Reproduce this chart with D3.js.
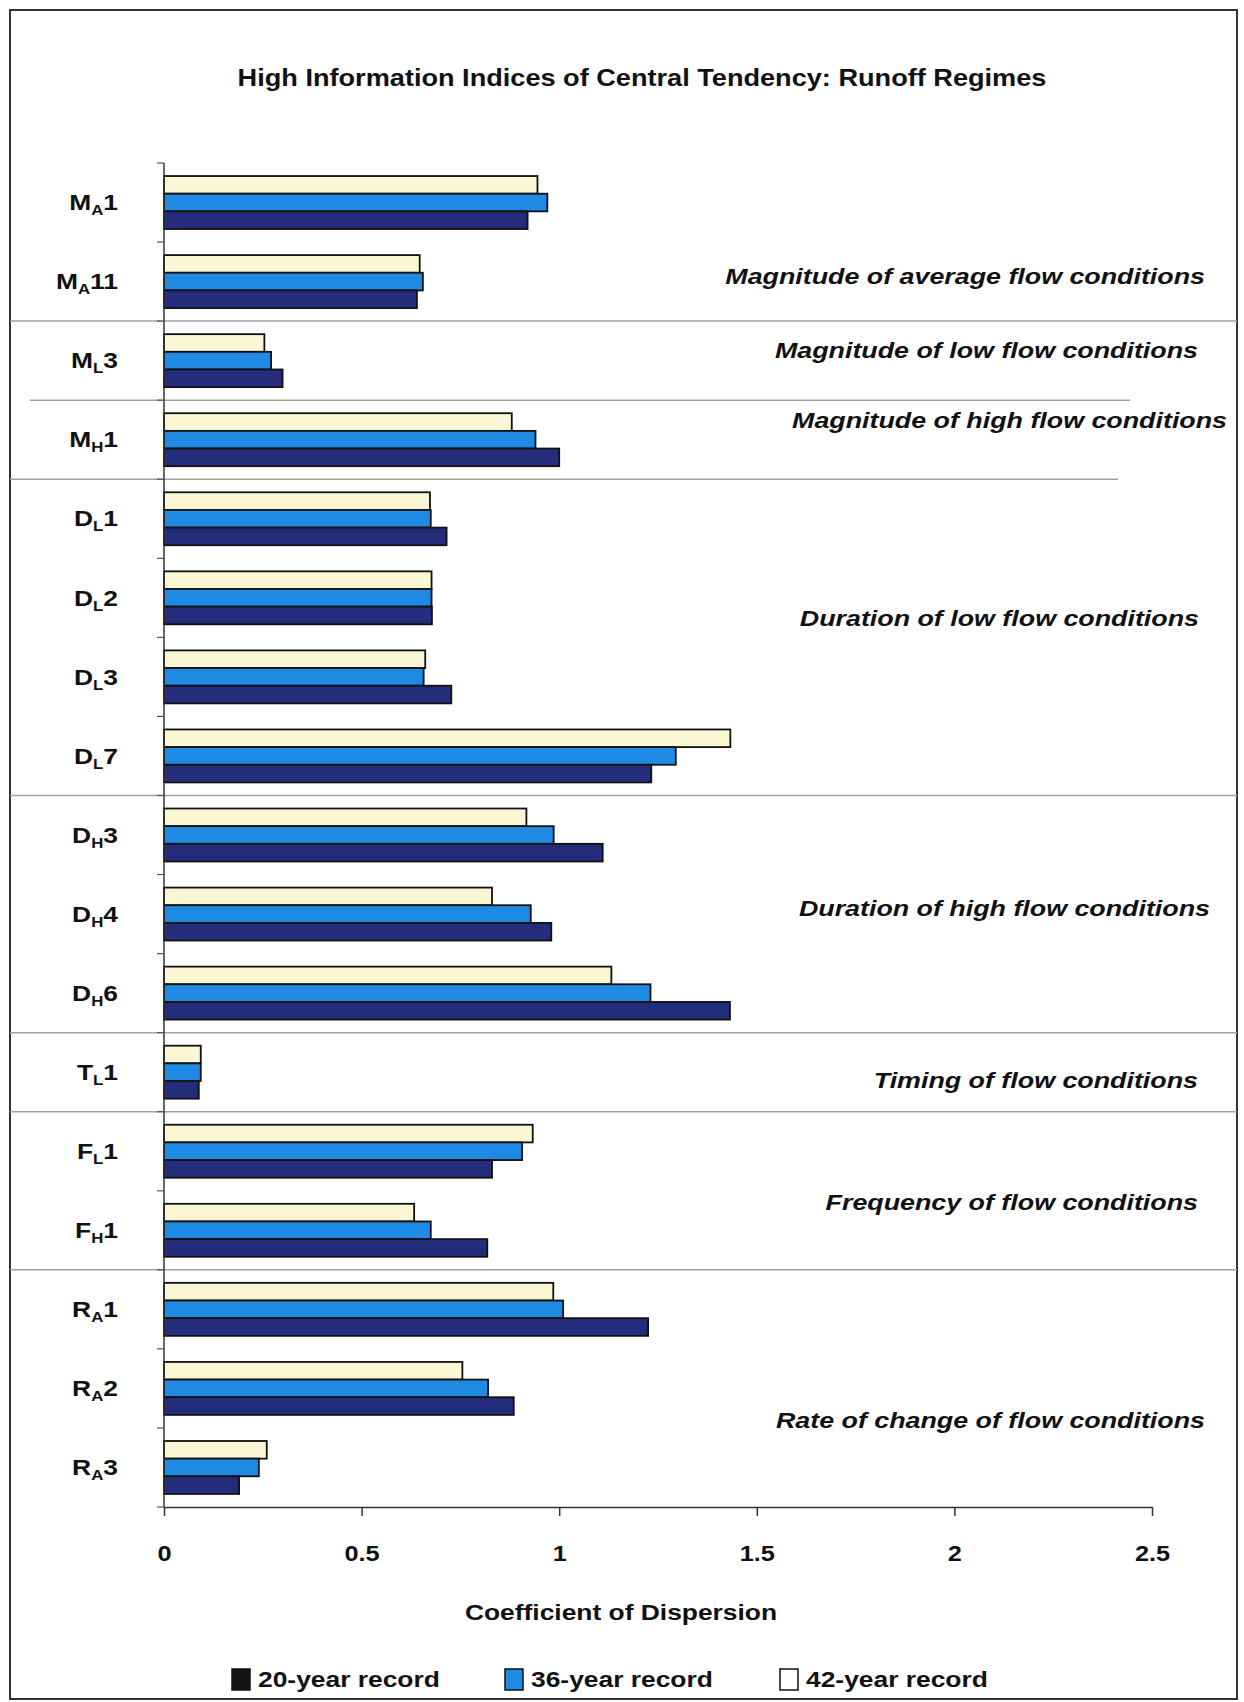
<!DOCTYPE html>
<html>
<head>
<meta charset="utf-8">
<script src="https://cdn.jsdelivr.net/npm/d3@7"></script>
<style>
  html, body { margin: 0; padding: 0; background: #fff; }
  svg { display: block; font-family: "Liberation Sans", Arial, sans-serif; }
</style>
</head>
<body>
<svg id="chart" width="1244" height="1702"></svg>
<script>
// ---------------- data ----------------
const catMain = ["M","M","M","M","D","D","D","D","D","D","D","T","F","F","R","R","R"];
const catSub  = ["A","A","L","H","L","L","L","L","H","H","H","L","L","H","A","A","A"];
const catNum  = ["1","11","3","1","1","2","3","7","3","4","6","1","1","1","1","2","3"];

const rec20 = [0.92, 0.64, 0.30, 1.00, 0.715, 0.678, 0.727, 1.233, 1.11, 0.98, 1.432, 0.088, 0.83, 0.818, 1.225, 0.885, 0.19];
const rec36 = [0.97, 0.655, 0.271, 0.94, 0.675, 0.677, 0.657, 1.295, 0.986, 0.928, 1.231, 0.093, 0.906, 0.675, 1.01, 0.82, 0.24];
const rec42 = [0.945, 0.647, 0.254, 0.88, 0.673, 0.677, 0.661, 1.433, 0.917, 0.83, 1.132, 0.093, 0.933, 0.633, 0.985, 0.755, 0.26];

const seriesNames = ["20-year record", "36-year record", "42-year record"];
const xTicks = [0, 0.5, 1, 1.5, 2, 2.5];

const groupLabels = ["Magnitude of average flow conditions", "Magnitude of low flow conditions",
  "Magnitude of high flow conditions", "Duration of low flow conditions",
  "Duration of high flow conditions", "Timing of flow conditions",
  "Frequency of flow conditions", "Rate of change of flow conditions"];
const groupBreaks = [2, 3, 4, 8, 11, 12, 14];   // category index after which a group ends

const titleText = "High Information Indices of Central Tendency:  Runoff Regimes";
const xTitle = "Coefficient of Dispersion";

// ---------------- layout (not data) ----------------
const colors = { "20": "#232d7c", "36": "#1f8ae3", "42": "#fbf7d5" };
const labelPos = [1.43, 2.37, 3.25, 5.76, 9.43, 11.6, 13.14, 15.9];        // in category units
const labelRight = [1205, 1198, 1227, 1199, 1210, 1198, 1198, 1205];
const breakExtent = [[10,1237],[30,1130],[10,1118],[10,1237],[10,1237],[10,1237],[10,1237]];

const svg = d3.select("#chart");
const plotTop = 163, plotBottom = 1507, plotLeft = 164;

// text helper: horizontally stretched text (the original print is wide)
function wideText(parent, x, y, sx, anchor) {
  return parent.append("text")
    .attr("transform", `translate(${x},${y}) scale(${sx},1)`)
    .attr("dy", "0.35em").attr("text-anchor", anchor)
    .attr("font-weight", "bold").attr("fill", "#111");
}

const x = d3.scaleLinear().domain([0, 2.5]).range([plotLeft, 1152]);
const idx = d3.range(catMain.length);
const y = d3.scaleBand().domain(idx).range([plotTop, plotBottom]).paddingInner(0.33).paddingOuter(0.165);
const ys = d3.scaleBand().domain(["42","36","20"]).range([0, y.bandwidth()]);
const yPos = p => plotTop + y.step() * p;

// frame
svg.append("rect").attr("x", 10).attr("y", 10).attr("width", 1227).attr("height", 1689)
  .attr("fill", "none").attr("stroke", "#333").attr("stroke-width", 2);

// title
wideText(svg, 642, 78, 1.18, "middle").attr("font-size", 23).text(titleText);

// group separators
svg.append("g").selectAll("line").data(groupBreaks).join("line")
  .attr("x1", (d, i) => breakExtent[i][0]).attr("x2", (d, i) => breakExtent[i][1])
  .attr("y1", d => yPos(d)).attr("y2", d => yPos(d))
  .attr("stroke", "#a0a0a0").attr("stroke-width", 1.5);

// bars
const seriesData = [["42", rec42], ["36", rec36], ["20", rec20]];
const gBars = svg.append("g");
seriesData.forEach(([key, vals]) => {
  gBars.append("g").selectAll("rect").data(vals).join("rect")
    .attr("x", x(0))
    .attr("y", (d, i) => y(i) + ys(key))
    .attr("width", d => x(d) - x(0))
    .attr("height", ys.bandwidth())
    .attr("fill", colors[key])
    .attr("stroke", "#111").attr("stroke-width", 1.8);
});

// y axis line and ticks at band boundaries
svg.append("line").attr("x1", plotLeft).attr("x2", plotLeft).attr("y1", plotTop).attr("y2", plotBottom)
  .attr("stroke", "#333").attr("stroke-width", 1.5);
svg.append("g").selectAll("line").data(d3.range(catMain.length + 1)).join("line")
  .attr("x1", plotLeft - 7).attr("x2", plotLeft)
  .attr("y1", d => yPos(d)).attr("y2", d => yPos(d))
  .attr("stroke", "#555").attr("stroke-width", 1.2);

// y labels with subscripts
const gy = svg.append("g");
idx.forEach(i => {
  const t = wideText(gy, 118, y(i) + y.bandwidth() / 2, 1.2, "end").attr("font-size", 22);
  t.append("tspan").text(catMain[i]);
  t.append("tspan").attr("font-size", 14).attr("dy", 5).text(catSub[i]);
  t.append("tspan").attr("dy", -5).text(catNum[i]);
});

// x axis
const xAxis = svg.append("g").attr("transform", `translate(0,${plotBottom})`)
  .call(d3.axisBottom(x).tickValues(xTicks).tickFormat(d => String(d)).tickSize(9).tickSizeOuter(0));
xAxis.select(".domain").attr("stroke", "#333").attr("stroke-width", 1.5);
xAxis.selectAll(".tick line").attr("stroke", "#333").attr("stroke-width", 1.5);
xAxis.selectAll(".tick text").attr("y", 0).attr("dy", "0.35em")
  .attr("transform", "translate(0,46) scale(1.15,1)")
  .attr("font-size", 22).attr("font-weight", "bold").attr("fill", "#111")
  .attr("font-family", "Liberation Sans, Arial, sans-serif");

// x title
wideText(svg, 621, 1612, 1.2, "middle").attr("font-size", 22).text(xTitle);

// group labels
const gl = svg.append("g");
groupLabels.forEach((d, i) => {
  wideText(gl, labelRight[i], yPos(labelPos[i]), 1.22, "end")
    .attr("font-size", 22).attr("font-style", "italic").text(d);
});

// legend
const legendX = [232, 505, 780];
const legendFill = ["#141414", colors["36"], "#ffffff"];
const lg = svg.append("g").selectAll("g").data(seriesNames).join("g")
  .attr("transform", (d, i) => `translate(${legendX[i]},1679)`);
lg.append("rect").attr("x", 0).attr("y", -10).attr("width", 18).attr("height", 21)
  .attr("fill", (d, i) => legendFill[i]).attr("stroke", "#111").attr("stroke-width", 1.5);
lg.each(function(d) {
  wideText(d3.select(this), 26, 0, 1.2, "start").attr("font-size", 22).text(d);
});
</script>
</body>
</html>
